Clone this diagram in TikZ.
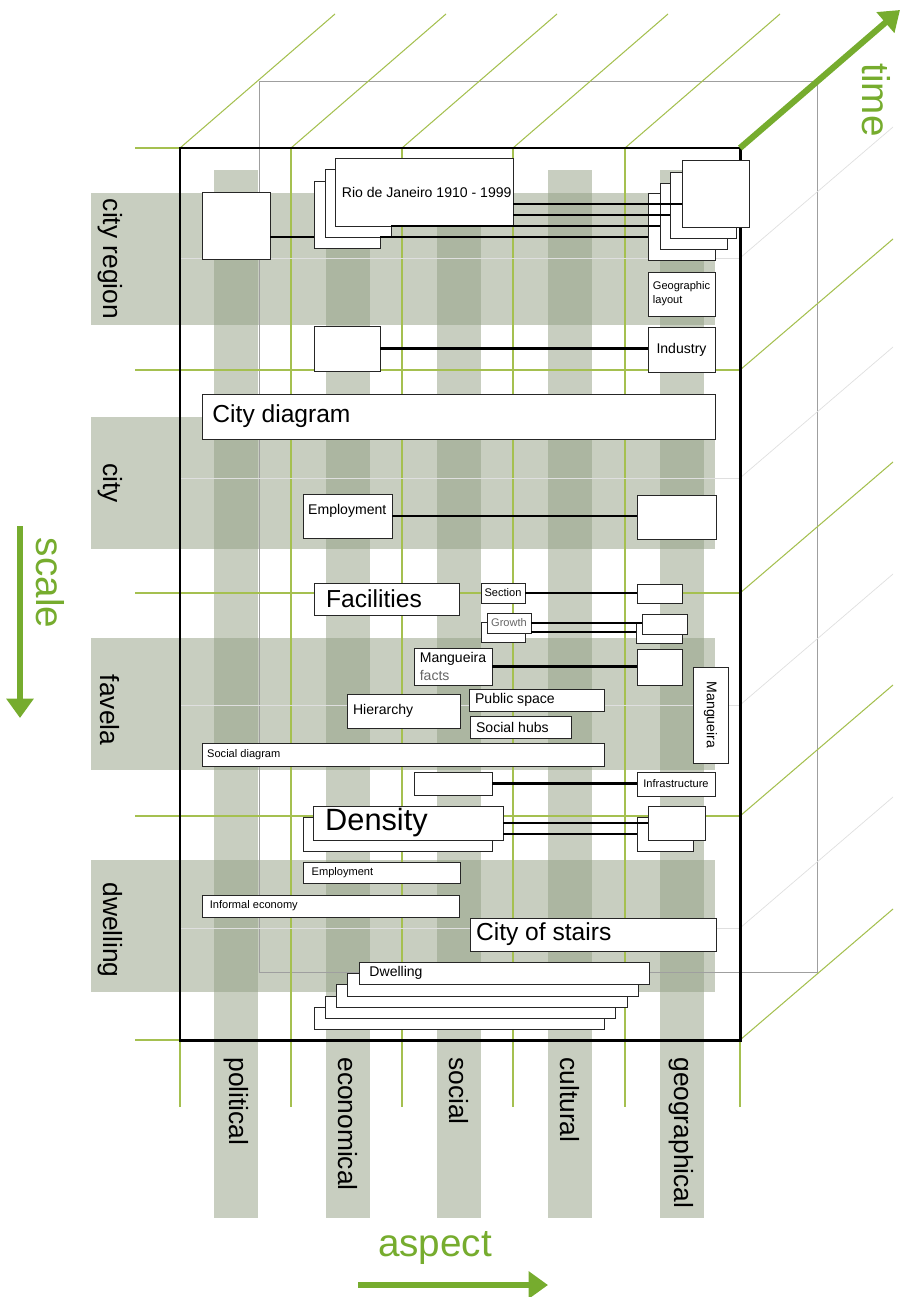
\documentclass[tikz,border=0pt]{standalone}
\usepackage{fontspec}
\setmainfont{Liberation Sans}
\usetikzlibrary{fit,arrows.meta}

\definecolor{gridgreen}{RGB}{165,192,80}
\definecolor{axisgreen}{RGB}{118,172,46}
\definecolor{bandgray}{RGB}{145,158,130}

\begin{document}
\begin{tikzpicture}[x=0.02cm, y=-0.02cm]

    % Stijlen voor banden, raster en kaders
    \tikzset{
        band/.style={fill=bandgray, fill opacity=0.5},
        gridline/.style={gridgreen, line width=0.6pt},
        faintline/.style={gray!25, line width=0.4pt},
        backframe/.style={gray!75, line width=0.5pt},
        frontframe/.style={black, line width=1.7pt},
        box/.style={draw=black!85, line width=0.5pt, fill=white, inner sep=0pt},
        link/.style={black, line width=1.3pt},
        bigarrow/.style={axisgreen, line width=3.5pt, -{Triangle[length=11pt,width=15pt]}},
        axistext/.style={axisgreen, font=\fontsize{22}{24}\selectfont},
        bandtext/.style={font=\fontsize{15}{17}\selectfont, rotate=-90, inner sep=0pt},
        smalltext/.style={font=\fontsize{6.3}{8}\selectfont},
        boxtext/.style={font=\fontsize{8}{10}\selectfont},
        bigtext/.style={font=\fontsize{14}{16}\selectfont},
        hugetext/.style={font=\fontsize{17.5}{20}\selectfont},
        inlabel/.style={anchor=west, inner sep=0pt, xshift=#1},
        inlabel/.default=3pt
    }

    \useasboundingbox (0,0) rectangle (904,1297);

    % --- BANDEN (SCHAAL EN ASPECT) ---
    \foreach \y in {193, 417, 638, 860}
        \fill[band] (91,\y) rectangle (715,\y+132);
    \foreach \x in {214, 326, 437, 548, 660}
        \fill[band] (\x,170) rectangle (\x+44,1218);

    % --- ACHTERSTE KADER ---
    \draw[backframe] (259,81) rectangle (817,972);

    % --- RASTER ---
    \foreach \y in {148, 370, 593, 816, 1040}
        \draw[gridline] (135,\y) -- (740,\y);
    \foreach \x in {180, 291, 402, 513, 625, 740}
        \draw[gridline] (\x,148) -- (\x,1107);
    \foreach \x in {180, 291, 402, 513, 625}
        \draw[gridline] (\x,148) -- ++(155,-134);
    \foreach \y in {370, 593, 816, 1040}
        \draw[gridline] (740,\y) -- ++(153,-131);
    \foreach \y in {258, 478, 705, 928} {
        \draw[faintline] (180,\y) -- (740,\y);
        \draw[faintline] (740,\y) -- ++(153,-131);
    }

    % --- VOORSTE KADER ---
    \draw[frontframe] (180,148) rectangle (740,1040);
    \coordinate (corner) at (740,148);

    % --- CITY REGION ---
    \node[box, fit={(202,192) (270,259)}] (region) {};
    \node[box, fit={(314,181) (380,248)}] (rio3) {};
    \node[box, fit={(325,169) (391,237)}] (rio2) {};
    \node[box, fit={(335,158) (513,226)},
          label={[inlabel=4pt, boxtext]west:Rio de Janeiro 1910 - 1999}] (rio) {};
    \node[box, fit={(648,193) (715,260)}] (year4) {};
    \node[box, fit={(660,183) (727,249)}] (year3) {};
    \node[box, fit={(670,172) (736,238)}] (year2) {};
    \node[box, fit={(682,160) (749,227)}] (year1) {};
    \node[box, fit={(648,272) (715,316)},
          label={[smalltext, align=left]center:Geographic\\layout}] (geo) {};
    \node[box, fit={(314,326) (380,371)}] (indleft) {};
    \node[box, fit={(648,327) (715,372)},
          label={[boxtext]center:Industry}] (industry) {};

    % --- CITY ---
    \node[box, fit={(202,394) (715,439)},
          label={[inlabel=6pt, bigtext]west:City diagram}] (citydiag) {};
    \node[box, fit={(303,494) (392,538)},
          label={[inlabel=3pt, yshift=3pt, boxtext]west:Employment}] (employ) {};
    \node[box, fit={(637,495) (716,539)}] (employright) {};
    \node[box, fit={(314,583) (459,615)},
          label={[inlabel=7pt, bigtext]west:Facilities}] (facil) {};
    \node[box, fit={(481,583) (525,603)},
          label={[smalltext]center:Section}] (section) {};
    \node[box, fit={(637,584) (682,603)}] (sectionright) {};
    \node[box, fit={(481,622) (525,642)}] (growth2) {};
    \node[box, fit={(487,613) (531,633)},
          label={[smalltext, text=black!60]center:Growth}] (growth) {};
    \node[box, fit={(636,623) (682,643)}] (growthright2) {};
    \node[box, fit={(642,614) (687,634)}] (growthright) {};

    % --- FAVELA ---
    \node[box, fit={(414,648) (492,685)},
          label={[boxtext, align=left]center:Mangueira\\\textcolor{black!60}{facts}}] (mfacts) {};
    \node[box, fit={(637,649) (682,685)}] (mfactsright) {};
    \node[box, fit={(693,667) (728,763)},
          label={[rotate=-90, boxtext]center:Mangueira}] (mangueira) {};
    \node[box, fit={(347,694) (460,728)},
          label={[inlabel=3.5pt, boxtext]west:Hierarchy}] (hierarchy) {};
    \node[box, fit={(469,689) (604,711)},
          label={[inlabel=3.5pt, boxtext]west:Public space}] (public) {};
    \node[box, fit={(470,716) (571,738)},
          label={[inlabel=3.5pt, boxtext]west:Social hubs}] (hubs) {};
    \node[box, fit={(202,743) (604,766)},
          label={[inlabel=3pt, smalltext]west:Social diagram}] (socdiag) {};
    \node[box, fit={(414,772) (492,795)}] (infleft) {};
    \node[box, fit={(637,772) (715,796)},
          label={[smalltext]center:Infrastructure}] (infra) {};

    % --- DWELLING ---
    \node[box, fit={(303,817) (492,851)}] (density2) {};
    \node[box, fit={(313,806) (503,840)},
          label={[inlabel=7pt, hugetext]west:Density}] (density) {};
    \node[box, fit={(637,817) (693,851)}] (densright2) {};
    \node[box, fit={(648,806) (705,840)}] (densright) {};
    \node[box, fit={(303,862) (460,883)},
          label={[inlabel=5pt, smalltext]west:Employment}] (employ2) {};
    \node[box, fit={(202,895) (459,917)},
          label={[inlabel=4.5pt, smalltext]west:Informal economy}] (informal) {};
    \node[box, fit={(470,918) (716,951)},
          label={[inlabel=3.5pt, bigtext]west:City of stairs}] (stairs) {};
    \node[box, fit={(314,1007) (604,1029)}] (dwell5) {};
    \node[box, fit={(325,996) (615,1018)}] (dwell4) {};
    \node[box, fit={(336,984) (627,1007)}] (dwell3) {};
    \node[box, fit={(347,973) (638,996)}] (dwell2) {};
    \node[box, fit={(359,962) (649,984)},
          label={[inlabel=6pt, boxtext]west:Dwelling}] (dwelling) {};

    % --- VERBINDINGEN ---
    \coordinate (lv1) at (0,204);
    \coordinate (lv2) at (0,215);
    \coordinate (lv3) at (0,226);
    \coordinate (lv4) at (0,237);
    \draw[link] (rio.east |- lv1) -- (year1.west |- lv1);
    \draw[link] (rio.east |- lv2) -- (year2.west |- lv2);
    \draw[link] (rio2.east |- lv3) -- (year3.west |- lv3);
    \draw[link] (region.east |- lv4) -- (rio3.west |- lv4);
    \draw[link] (rio3.east |- lv4) -- (year4.west |- lv4);
    \draw[link] (indleft.east) -- (indleft.east -| industry.west);
    \draw[link] (employ.east) -- (employ.east -| employright.west);
    \draw[link] (section.east) -- (section.east -| sectionright.west);
    \draw[link] (growth.east) -- (growth.east -| growthright.west);
    \draw[link] (growth.east |- growth2.east) -- (growthright2.west |- growth2.east);
    \draw[link] (mfacts.east) -- (mfacts.east -| mfactsright.west);
    \draw[link] (infleft.east) -- (infleft.east -| infra.west);
    \draw[link] (density.east) -- (density.east -| densright.west);
    \draw[link] (density.east |- density2.east) -- (densright2.west |- density2.east);

    % --- LABELS VOOR SCHAAL EN ASPECT ---
    \node[bandtext] (lregion) at (110,259) {city region};
    \node[bandtext] (lcity) at (110,483) {city};
    \node[bandtext] (lfavela) at (110,710) {favela};
    \node[bandtext] (ldwelling) at (110,930) {dwelling};
    \node[bandtext, anchor=west] (lpolitical) at (236,1057) {political};
    \node[bandtext, anchor=west] (leconomical) at (348,1057) {economical};
    \node[bandtext, anchor=west] (lsocial) at (459,1057) {social};
    \node[bandtext, anchor=west] (lcultural) at (570,1057) {cultural};
    \node[bandtext, anchor=west] (lgeo) at (681,1057) {geographical};

    % --- ASSEN ---
    \coordinate (timeend) at (900,10);
    \draw[bigarrow] (corner) -- (timeend);
    \node[axistext, rotate=-90] (ltime) at (876,100) {time};

    \coordinate (scaletop) at (20,526);
    \coordinate (scalebottom) at (20,718);
    \draw[bigarrow] (scaletop) -- (scalebottom);
    \node[axistext, rotate=-90] (lscale) at (50,583) {scale};

    \coordinate (aspectleft) at (358,1285);
    \coordinate (aspectright) at (548,1285);
    \draw[bigarrow] (aspectleft) -- (aspectright);
    \node[axistext] (laspect) at (435,1248) {aspect};

\end{tikzpicture}
\end{document}
